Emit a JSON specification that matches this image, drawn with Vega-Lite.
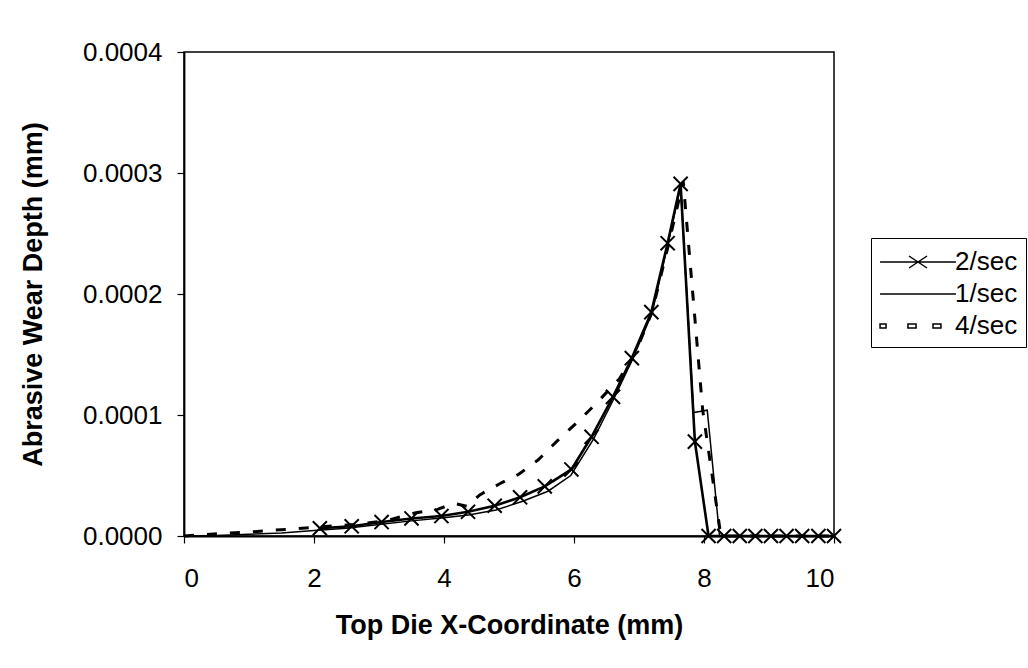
{
  "$schema": "https://vega.github.io/schema/vega-lite/v6.json",
  "width": 650,
  "height": 484,
  "autosize": {"type": "none"},
  "padding": {"left": 184, "top": 52, "right": 194, "bottom": 132},
  "background": "white",
  "config": {
    "font": "Liberation Sans",
    "view": {"stroke": "black", "strokeWidth": 1.5},
    "axis": {
      "domainColor": "black", "domainWidth": 1.8,
      "tickColor": "black", "tickWidth": 1.2, "tickSize": 7,
      "labelColor": "black", "labelFontSize": 26, "labelFont": "Liberation Sans",
      "titleColor": "black", "titleFontSize": 27, "titleFontWeight": "bold", "titleFont": "Liberation Sans",
      "grid": false
    },
    "legend": {
      "labelFont": "Liberation Sans", "labelFontSize": 26, "labelColor": "black"
    }
  },
  "datasets": {
    "d": [
      {"series": "1/sec", "x": 0, "y": 0},
      {"series": "1/sec", "x": 0.5, "y": 0.0000005},
      {"series": "1/sec", "x": 1.0, "y": 0.0000015},
      {"series": "1/sec", "x": 1.5, "y": 0.0000025},
      {"series": "1/sec", "x": 2.0, "y": 0.0000045},
      {"series": "1/sec", "x": 2.5, "y": 0.0000065},
      {"series": "1/sec", "x": 3.0, "y": 0.0000095},
      {"series": "1/sec", "x": 3.5, "y": 0.0000125},
      {"series": "1/sec", "x": 4.0, "y": 0.000015},
      {"series": "1/sec", "x": 4.4, "y": 0.0000175},
      {"series": "1/sec", "x": 4.8, "y": 0.0000215},
      {"series": "1/sec", "x": 5.2, "y": 0.0000285},
      {"series": "1/sec", "x": 5.6, "y": 0.000037},
      {"series": "1/sec", "x": 5.95, "y": 0.00005},
      {"series": "1/sec", "x": 6.3, "y": 0.00008},
      {"series": "1/sec", "x": 6.6, "y": 0.000112},
      {"series": "1/sec", "x": 6.9, "y": 0.000146},
      {"series": "1/sec", "x": 7.2, "y": 0.000184},
      {"series": "1/sec", "x": 7.44, "y": 0.00024},
      {"series": "1/sec", "x": 7.64, "y": 0.000289},
      {"series": "1/sec", "x": 7.84, "y": 0.000102},
      {"series": "1/sec", "x": 8.05, "y": 0.000104},
      {"series": "1/sec", "x": 8.24, "y": 0},
      {"series": "1/sec", "x": 10, "y": 0},
      {"series": "4/sec", "x": 0, "y": 0},
      {"series": "4/sec", "x": 0.55, "y": 0.000002},
      {"series": "4/sec", "x": 1.05, "y": 0.0000035},
      {"series": "4/sec", "x": 1.58, "y": 0.0000055},
      {"series": "4/sec", "x": 2.1, "y": 0.0000075},
      {"series": "4/sec", "x": 2.6, "y": 0.0000095},
      {"series": "4/sec", "x": 3.1, "y": 0.0000125},
      {"series": "4/sec", "x": 3.55, "y": 0.000019},
      {"series": "4/sec", "x": 3.9, "y": 0.000022},
      {"series": "4/sec", "x": 4.15, "y": 0.000027},
      {"series": "4/sec", "x": 4.35, "y": 0.0000245},
      {"series": "4/sec", "x": 4.55, "y": 0.000034},
      {"series": "4/sec", "x": 4.85, "y": 0.000043},
      {"series": "4/sec", "x": 5.15, "y": 0.000051},
      {"series": "4/sec", "x": 5.45, "y": 0.000063},
      {"series": "4/sec", "x": 5.75, "y": 0.000079},
      {"series": "4/sec", "x": 6.05, "y": 0.000094},
      {"series": "4/sec", "x": 6.35, "y": 0.00011},
      {"series": "4/sec", "x": 6.7, "y": 0.00013},
      {"series": "4/sec", "x": 6.95, "y": 0.000152},
      {"series": "4/sec", "x": 7.2, "y": 0.000185},
      {"series": "4/sec", "x": 7.45, "y": 0.00024},
      {"series": "4/sec", "x": 7.68, "y": 0.000293},
      {"series": "4/sec", "x": 7.98, "y": 0.000104},
      {"series": "4/sec", "x": 8.26, "y": 0},
      {"series": "4/sec", "x": 10, "y": 0},
      {"series": "2/sec", "x": 2.09, "y": 0.0000064},
      {"series": "2/sec", "x": 2.58, "y": 0.000008},
      {"series": "2/sec", "x": 3.04, "y": 0.0000115},
      {"series": "2/sec", "x": 3.5, "y": 0.0000145},
      {"series": "2/sec", "x": 3.96, "y": 0.0000165},
      {"series": "2/sec", "x": 4.37, "y": 0.00002},
      {"series": "2/sec", "x": 4.78, "y": 0.000025},
      {"series": "2/sec", "x": 5.17, "y": 0.000032},
      {"series": "2/sec", "x": 5.55, "y": 0.000041},
      {"series": "2/sec", "x": 5.96, "y": 0.000055},
      {"series": "2/sec", "x": 6.27, "y": 0.000082},
      {"series": "2/sec", "x": 6.6, "y": 0.000115},
      {"series": "2/sec", "x": 6.89, "y": 0.000147},
      {"series": "2/sec", "x": 7.19, "y": 0.000185},
      {"series": "2/sec", "x": 7.44, "y": 0.000242},
      {"series": "2/sec", "x": 7.64, "y": 0.000291},
      {"series": "2/sec", "x": 7.86, "y": 0.000078},
      {"series": "2/sec", "x": 8.07, "y": 0},
      {"series": "2/sec", "x": 8.31, "y": 0},
      {"series": "2/sec", "x": 8.55, "y": 0},
      {"series": "2/sec", "x": 8.79, "y": 0},
      {"series": "2/sec", "x": 9.03, "y": 0},
      {"series": "2/sec", "x": 9.27, "y": 0},
      {"series": "2/sec", "x": 9.51, "y": 0},
      {"series": "2/sec", "x": 9.76, "y": 0},
      {"series": "2/sec", "x": 10.0, "y": 0}
    ]
  },
  "data": {"name": "d"},
  "encoding": {
    "x": {
      "field": "x", "type": "quantitative",
      "scale": {"domain": [0, 10], "nice": false},
      "axis": {"values": [0, 2, 4, 6, 8, 10], "title": "Top Die X-Coordinate (mm)", "labelPadding": 22, "titlePadding": 21}
    },
    "y": {
      "field": "y", "type": "quantitative",
      "scale": {"domain": [0, 0.0004], "nice": false},
      "axis": {"values": [0, 0.0001, 0.0002, 0.0003, 0.0004], "format": ".4f", "title": "Abrasive Wear Depth (mm)", "labelPadding": 15, "titlePadding": 35}
    }
  },
  "layer": [
    {
      "transform": [{"filter": "datum.series === '1/sec'"}],
      "mark": {"type": "line", "color": "black", "strokeWidth": 1.5},
      "encoding": {"order": {"field": "x"}}
    },
    {
      "transform": [{"filter": "datum.series === '4/sec'"}],
      "mark": {"type": "line", "color": "black", "strokeWidth": 3, "strokeDash": [10, 13]},
      "encoding": {"order": {"field": "x"}}
    },
    {
      "transform": [{"filter": "datum.series === '2/sec'"}],
      "mark": {"type": "line", "color": "black", "strokeWidth": 2.6},
      "encoding": {"order": {"field": "x"}}
    },
    {
      "transform": [{"filter": "datum.series === '2/sec'"}],
      "mark": {"type": "point", "shape": "M-1,-1L1,1M-1,1L1,-1", "filled": false, "stroke": "black", "strokeWidth": 2, "size": 200, "opacity": 1}
    },
    {
      "transform": [{"filter": "false"}],
      "mark": {"type": "point", "filled": false},
      "encoding": {
        "shape": {
          "field": "series", "type": "nominal",
          "scale": {
            "domain": ["2/sec", "1/sec", "4/sec"],
            "range": [
              "M-2.53,0H2.53M-0.6,-0.4L0.6,0.4M-0.6,0.4L0.6,-0.4",
              "M-2.53,0H2.53",
              "M-2.53,-0.13H-2.13V0.13H-2.53ZM-0.67,-0.13H-0.13V0.13H-0.67ZM1.0,-0.13H1.53V0.13H1.0Z"
            ]
          },
          "legend": {
            "title": null,
            "orient": "none",
            "legendX": 687,
            "legendY": 186,
            "padding": 8,
            "strokeColor": "black",
            "symbolSize": 900,
            "symbolOffset": 23,
            "symbolStrokeColor": "black",
            "symbolFillColor": "black",
            "symbolStrokeWidth": 1.5,
            "symbolOpacity": 1,
            "labelOffset": 21,
            "rowPadding": 3
          }
        }
      }
    }
  ]
}
